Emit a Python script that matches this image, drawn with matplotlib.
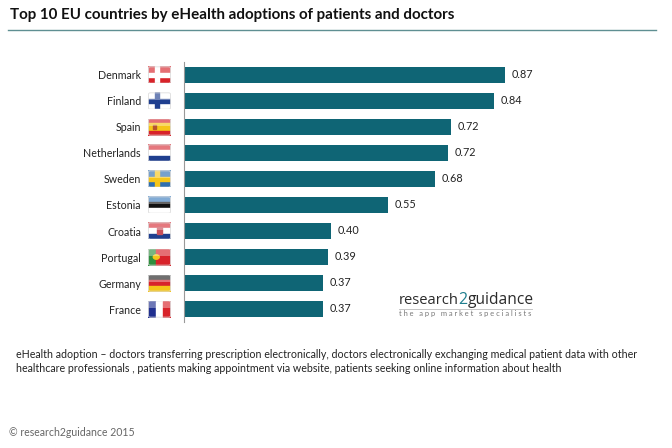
from matplotlib import pyplot as plt
from matplotlib.patches import Rectangle, FancyBboxPatch

countries = ["Denmark", "Finland", "Spain", "Netherlands", "Sweden",
             "Estonia", "Croatia", "Portugal", "Germany", "France"]
values = [0.87, 0.84, 0.723, 0.715, 0.68, 0.553, 0.398, 0.39, 0.377, 0.377]
value_labels = ["0.87", "0.84", "0.72", "0.72", "0.68", "0.55", "0.40", "0.39", "0.37", "0.37"]

title = "Top 10 EU countries by eHealth adoptions of patients and doctors"
note_1 = ("eHealth adoption \u2013 doctors transferring prescription electronically, doctors electronically "
          "exchanging medical patient data with other")
note_2 = ("healthcare professionals , patients making appointment via website, patients seeking online "
          "information about health")
footer = "\u00a9 research2guidance 2015"

# bandes des drapeaux : (horizontal ou vertical, couleurs)
flag_stripes = {
    "Spain": ("h", ["#d8232a", "#f5c518", "#f5c518", "#d8232a"]),
    "Netherlands": ("h", ["#d8303a", "#ffffff", "#1f3f8f"]),
    "Estonia": ("h", ["#3f7fc0", "#111111", "#ffffff"]),
    "Croatia": ("h", ["#d8303a", "#ffffff", "#1f3f8f"]),
    "Germany": ("h", ["#222222", "#d8232a", "#f5c518"]),
    "France": ("v", ["#1f2f8f", "#ffffff", "#d8232a"]),
    "Portugal": ("v", ["#2f8f3f", "#d8232a", "#d8232a"]),
}
# croix nordiques : fond, croix
flag_cross = {
    "Denmark": ("#d8232a", "#ffffff"),
    "Finland": ("#ffffff", "#1f3f8f"),
    "Sweden": ("#2f6fb0", "#f5c518"),
}

W, H = 672, 448
bar_color = "#0f6575"
text_color = "#222222"
font = ["Lato", "DejaVu Sans"]
plt.rcParams["font.family"] = font

fig = plt.figure(figsize=(W / 100, H / 100), dpi=100, facecolor="white")

# cadre en pixels : gauche 184, haut 62, bas 322
ax = fig.add_axes([184 / W, 1 - 322 / H, 440 / W, 260 / H])
positions = list(range(len(countries)))
ax.barh(positions, values, height=0.58, color=bar_color)
ax.set_xlim(0, 440 / 369)
ax.set_ylim(9.5, -0.5)
ax.set_yticks(positions)
ax.set_yticklabels(countries, fontsize=7.7, color=text_color)
ax.tick_params(axis="y", length=0, pad=31)
ax.set_xticks([])
for side in ["top", "right", "bottom"]:
    ax.spines[side].set_visible(False)
ax.spines["left"].set_color("#999999")
ax.spines["left"].set_linewidth(0.8)
for pos, val, lab in zip(positions, values, value_labels):
    ax.annotate(lab, (val, pos), xytext=(5, 0), textcoords="offset points",
                va="center", ha="left", fontsize=7.8, color=text_color)


def draw_flag(name, pos):
    y_center = 62 + (pos + 0.5) * 26
    a = fig.add_axes([148 / W, 1 - (y_center + 8.5) / H, 23 / W, 17 / H])
    a.set_xlim(0, 1)
    a.set_ylim(1, 0)
    a.axis("off")
    if name in flag_cross:
        bg, cross = flag_cross[name]
        a.add_patch(Rectangle((0, 0), 1, 1, color=bg))
        a.add_patch(Rectangle((0.3, 0), 0.17, 1, color=cross))
        a.add_patch(Rectangle((0, 0.4), 1, 0.2, color=cross))
    else:
        kind, cols = flag_stripes[name]
        n = len(cols)
        for i, c in enumerate(cols):
            if kind == "h":
                a.add_patch(Rectangle((0, i / n), 1, 1 / n, color=c))
            else:
                a.add_patch(Rectangle((i / n, 0), 1 / n, 1, color=c))
    if name == "Portugal":
        a.add_patch(plt.Circle((0.36, 0.5), 0.13, color="#f5c518"))
    if name == "Croatia":
        a.add_patch(Rectangle((0.4, 0.25), 0.2, 0.45, color="#c8505a"))
    if name == "Spain":
        a.add_patch(Rectangle((0.22, 0.38), 0.14, 0.26, color="#b5552a"))
    # reflet du haut + bord clair
    a.add_patch(Rectangle((0, 0), 1, 0.42, color="white", alpha=0.35, lw=0))
    a.add_patch(FancyBboxPatch((0.02, 0.02), 0.96, 0.96, boxstyle="round,pad=0,rounding_size=0.08",
                               fill=False, ec="#dddddd", lw=0.6))


for pos, name in zip(positions, countries):
    draw_flag(name, pos)

# titre et filet
fig.text(10 / W, 1 - 15 / H, title, fontsize=10.9, fontweight="bold", color="#111111", va="center", ha="left")
fig.add_artist(plt.Line2D([8 / W, 656 / W], [1 - 30.5 / H, 1 - 30.5 / H], color="#5f8f92", lw=1))

# logo
fig.text(399 / W, 1 - 300 / H, "research", fontsize=10.6, color="#2b2b2b", va="center", ha="left",
         family=["Open Sans", "DejaVu Sans"])
fig.text(458.5 / W, 1 - 300 / H, "2", fontsize=11.5, color="#1f7f8f", va="center", ha="left",
         family=["Open Sans", "DejaVu Sans"])
fig.text(467.5 / W, 1 - 300 / H, "guidance", fontsize=11.2, color="#2b2b2b", va="center", ha="left",
         family=["Open Sans", "DejaVu Sans"])
fig.add_artist(plt.Line2D([399 / W, 532 / W], [1 - 308.5 / H, 1 - 308.5 / H], color="#bbbbbb", lw=0.6))
fig.text(399 / W, 1 - 313 / H, "t h e   a p p   m a r k e t   s p e c i a l i s t s", fontsize=5.45,
         color="#777777", va="center", ha="left")

# notes
fig.text(16 / W, 1 - 354 / H, note_1, fontsize=7.65, color=text_color, va="center", ha="left")
fig.text(16 / W, 1 - 368 / H, note_2, fontsize=7.65, color=text_color, va="center", ha="left")
fig.text(9 / W, 1 - 432 / H, footer, fontsize=7.6, color="#666666", va="center", ha="left")

fig.savefig("out.png", dpi=100)
